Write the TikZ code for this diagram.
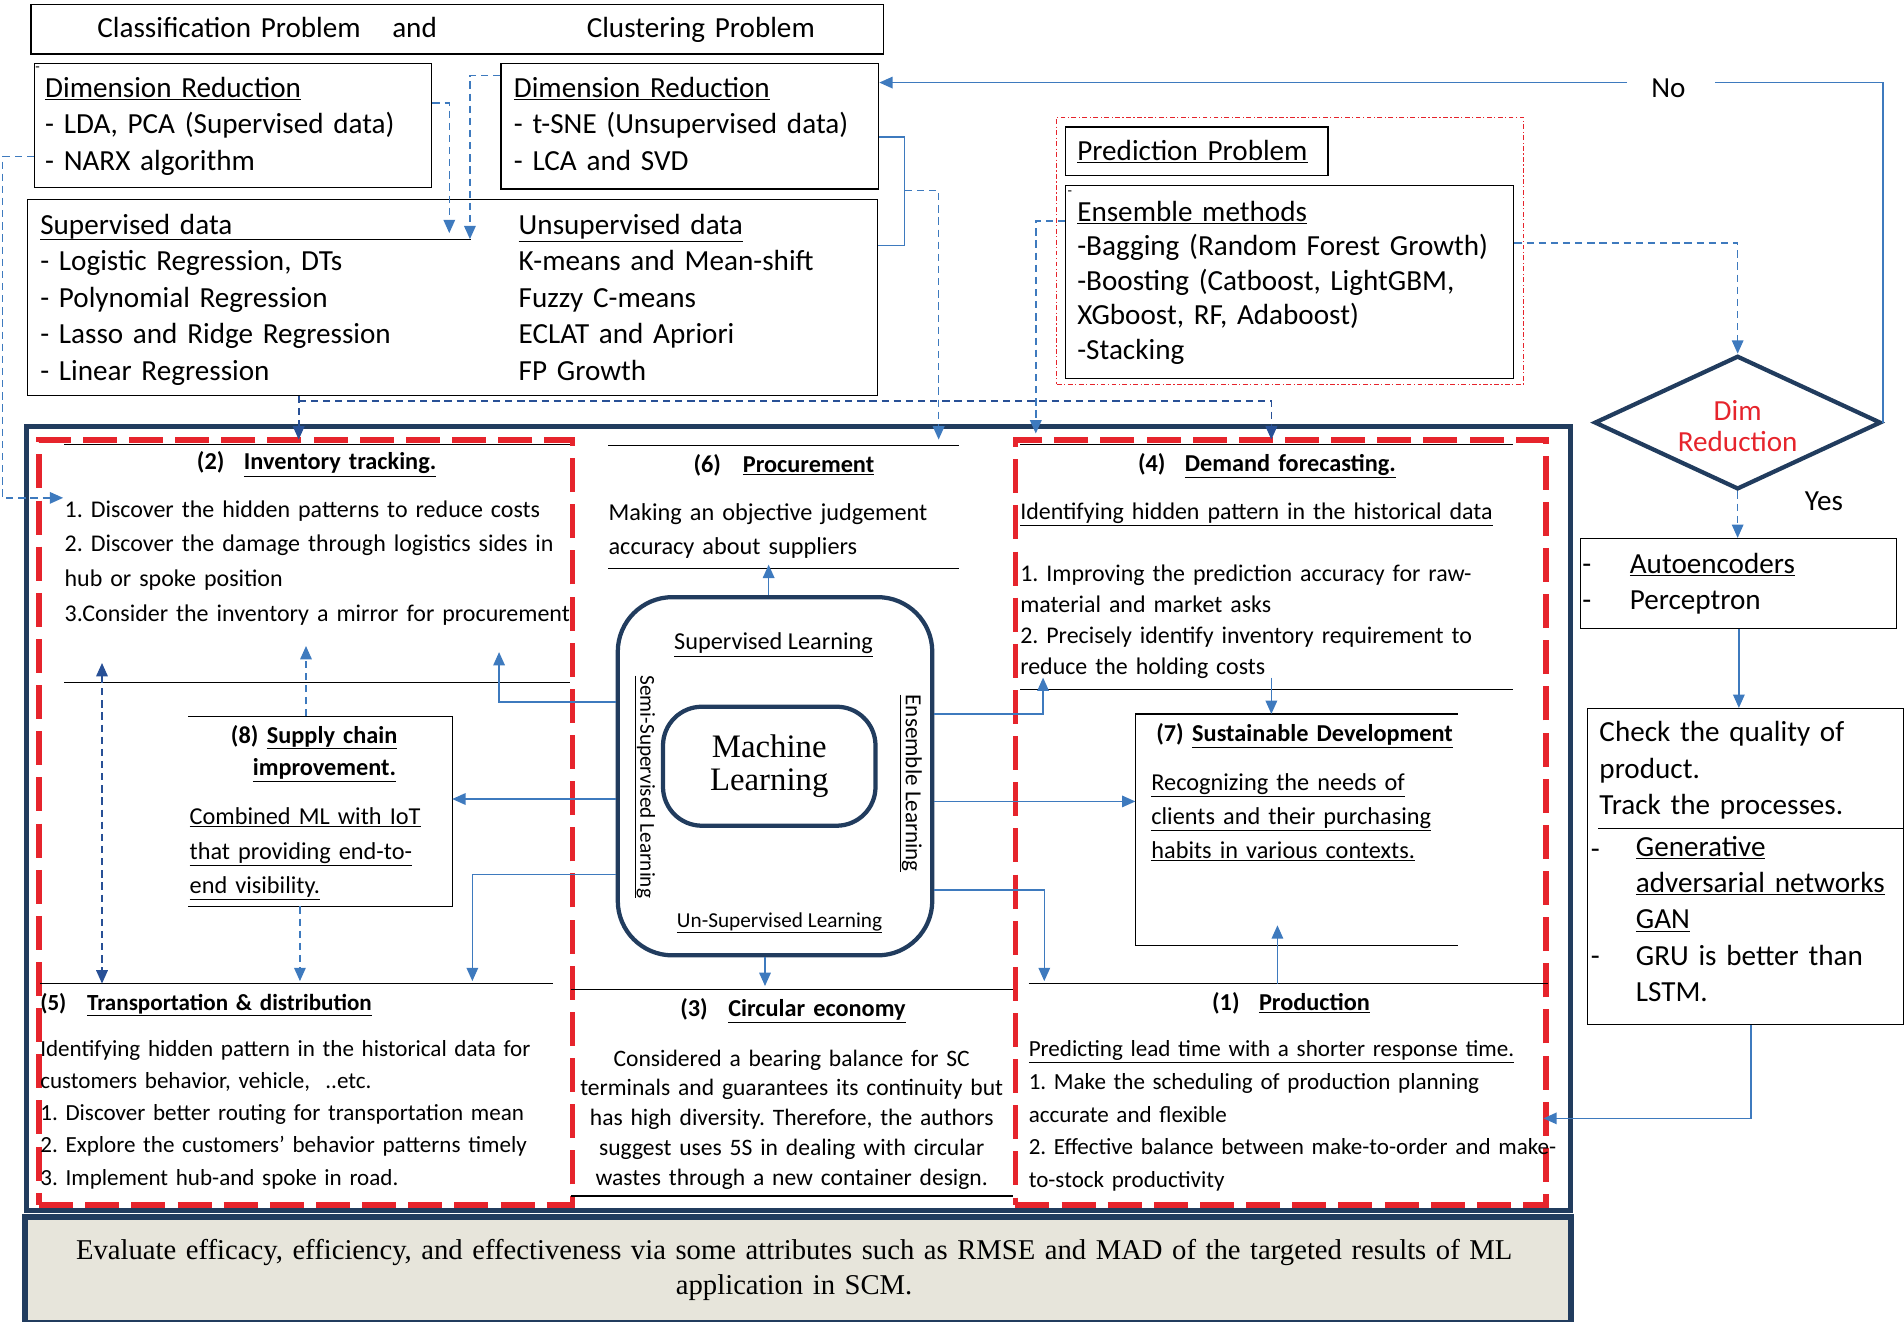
\documentclass[tikz,border=0pt]{standalone}
\usepackage{fontspec}
\setmainfont{Carlito}
\newfontfamily\mlserif{Liberation Serif}
\usepackage{tikz}
\usetikzlibrary{shapes.geometric,arrows.meta,positioning}
\definecolor{navy}{RGB}{33,60,94}
\definecolor{lblue}{RGB}{62,122,190}
\definecolor{dblue}{RGB}{40,80,150}
\definecolor{bred}{RGB}{230,36,44}
\definecolor{beige}{RGB}{231,229,219}
\frenchspacing
\newcommand{\fsz}[2]{\fontsize{#1}{#2}\selectfont}
\newcommand{\ftop}{\fsz{24}{30}}
\newcommand{\fhead}{\fsz{20}{26}}
\newcommand{\fbody}{\fsz{19.75}{28.5}}
\newcommand{\fsmall}{\fsz{19}{26.5}}
\tikzstyle{box} = [draw, line width=1.1pt, inner sep=0pt, anchor=north west]
\tikzstyle{area} = [inner sep=0pt, anchor=north west]
\tikzstyle{navybox} = [draw=navy, line width=4pt, inner sep=0pt, anchor=north west]
\tikzstyle{redbox} = [draw=bred, line width=4.5pt, dash pattern=on 28pt off 10pt, inner sep=0pt, anchor=north west]
\tikzstyle{txt} = [inner sep=0pt, anchor=base west, align=left, text width=600pt]
\tikzstyle{ctxt} = [inner sep=0pt, anchor=base, align=center, text width=420pt]
\tikzstyle{rule} = [draw, line width=1pt]
\tikzstyle{line} = [draw=lblue, line width=1.3pt]
\tikzstyle{arr} = [line, -{Triangle[length=11pt,width=9.5pt]}]
\tikzstyle{darr} = [arr, dash pattern=on 6pt off 4pt]

\begin{document}
\begin{tikzpicture}[x=1pt, y=-1pt]
\useasboundingbox (0,0) rectangle (1568,1088);

% ---- problems and methods on top
\node [box, minimum width=702, minimum height=41] (cls) at (25,3) {};
\node [txt, font=\ftop] (clsa) at (80,31) {Classification Problem\hspace{26pt}and};
\node [txt, font=\ftop] (clsb) at (483,31) {Clustering Problem};

\node [box, minimum width=327, minimum height=102] (dimL) at (28,52) {};
\node [txt, font=\fsz{12}{12}] (dimLm) at (29,59) {-};
\node [txt, font=\ftop] (dimLt) at (37,80) {\underline{Dimension Reduction}\\- LDA, PCA (Supervised data)\\- NARX algorithm};
\node [box, minimum width=311, minimum height=103] (dimR) at (412,52) {};
\node [txt, font=\ftop] (dimRt) at (423,80) {\underline{Dimension Reduction}\\- t-SNE (Unsupervised data)\\- LCA and SVD};

\node [box, minimum width=700, minimum height=161] (sup) at (22,164) {};
\node [txt, font=\ftop] (supt) at (33,193) {Supervised data\\- Logistic Regression, DTs\\- Polynomial Regression\\- Lasso and Ridge Regression\\- Linear Regression};
\path [rule] (33,197) -- (388,197);
\node [txt, font=\ftop] (unst) at (427,193) {\underline{Unsupervised data}\\K-means and Mean-shift\\Fuzzy C-means\\ECLAT and Apriori\\FP Growth};

\node [area, draw=bred, line width=0.7pt, dash pattern=on 4pt off 2pt on 1pt off 2pt, minimum width=384, minimum height=220] (pred) at (870,96) {};
\node [box, minimum width=216, minimum height=40] (predp) at (877,104) {};
\node [txt, font=\ftop] (predt) at (887,132) {\underline{Prediction Problem}};
\node [box, minimum width=369, minimum height=159] (ens) at (877,152) {};
\node [txt, font=\fsz{12}{12}] (ensm) at (879,161) {-};
\node [txt, font=\fsz{24}{28.5}] (enst) at (887,182) {\underline{Ensemble methods}\\-Bagging (Random Forest Growth)\\-Boosting (Catboost, LightGBM,\\XGboost, RF, Adaboost)\\-Stacking};

% ---- right column
\node [diamond, draw=navy, line width=3.5pt, inner sep=0pt, aspect=2.15, minimum width=236, minimum height=110, align=center, text=bred, font=\fsz{24}{26}] (dia) at (1431,348) {};
\node [inner sep=0pt, align=center, text=bred, font=\fsz{24}{26}] (diat) at (1431,351) {Dim\\Reduction};
\node [inner sep=18pt, font=\ftop] (no) at (1374,73) {No};
\node [inner sep=0pt, font=\ftop] (yes) at (1502,413) {Yes};

\node [box, minimum width=260, minimum height=74] (auto) at (1301,443) {};
\node [txt, font=\ftop] (autom) at (1303,472) {-\\-};
\node [txt, font=\ftop] (autot) at (1342,472) {\underline{Autoencoders}\\Perceptron};

\node [box, minimum width=260, minimum height=260] (chk) at (1307,583) {};
\node [txt, font=\ftop] (chkt) at (1317,611) {Check the quality of\\product.\\Track the processes.};
\path [rule] (1316,682) -- (chk.east |- 0,682);
\node [txt, font=\ftop] (chkm) at (1310,707) {-\\[58pt]-};
\node [txt, font=\ftop] (chkg) at (1347,705) {\underline{Generative}\\\underline{adversarial networks}\\\underline{GAN}\\GRU is better than\\LSTM.};

% ---- main frame
\node [navybox, minimum width=1271, minimum height=646] (main) at (20,349) {};
\node [redbox, minimum width=439, minimum height=630] (redL) at (30,360) {};
\node [redbox, minimum width=437, minimum height=630] (redR) at (834,360) {};

% (2) inventory tracking
\path [rule] (53,366) -- (469,366);
\path [rule] (53,562) -- (469,562);
\node [txt, font=\fhead] (invh) at (162,387) {\textbf{(2)}\hspace{16pt}\textbf{\underline{Inventory tracking.}}};
\node [txt, font=\fbody] (invt) at (53,426) {1. Discover the hidden patterns to reduce costs\\2. Discover the damage through logistics sides in\\hub or spoke position\\3.Consider the inventory a mirror for procurement};

% (8) supply chain improvement
\node [area, minimum width=217, minimum height=156] (sc) at (155,590) {};
\path [rule] (sc.north west) -- (sc.north east) -- (sc.south east) -- (sc.south west);
\node [txt, font=\fhead] (sch) at (190,612) {\textbf{(8)}\hspace{7pt}\textbf{\underline{Supply chain}}};
\node [txt, font=\fhead] (sch2) at (208,639) {\textbf{\underline{improvement.}}};
\node [txt, font=\fsz{20}{28.5}] (sct) at (156,679) {\underline{Combined ML with IoT}\\\underline{that providing end-to-}\\\underline{end visibility.}};

% (5) transportation
\path [rule] (33,810) -- (455,810);
\node [txt, font=\fsz{19}{24}] (trh) at (33,832) {\textbf{(5)}\hspace{17pt}\textbf{\underline{Transportation \& distribution}}};
\node [txt, font=\fsmall] (trt) at (33,870) {Identifying hidden pattern in the historical data for\\customers behavior, vehicle,\ \ ..etc.\\1. Discover better routing for transportation mean\\2. Explore the customers' behavior patterns timely\\3. Implement hub-and spoke in road.};

% (6) procurement
\path [rule] (501,367) -- (790,367);
\path [rule] (501,468) -- (790,468);
\node [txt, font=\fhead] (proch) at (571,389) {\textbf{(6)}\hspace{18pt}\textbf{\underline{Procurement}}};
\node [txt, font=\fsz{20}{28}] (proct) at (501,429) {Making an objective judgement\\accuracy about suppliers};

% machine learning
\node [area, draw=navy, line width=3.5pt, rounded corners=45pt, minimum width=259, minimum height=295] (mlout) at (507,490) {};
\node [draw=navy, line width=3.5pt, rounded corners=32pt, minimum width=175, minimum height=98, inner sep=0pt, align=center, font={\mlserif\fsz{27}{27}}] (ml) at (633.5,631) {Machine\\Learning};
\node [inner sep=0pt, font=\fsz{20}{24}] (sl) at (637,531) {\underline{Supervised Learning}};
\node [inner sep=0pt, font=\fsz{17.5}{20}] (ul) at (642,760) {\underline{Un-Supervised Learning}};
\node [inner sep=0pt, rotate=-90, font=\fsz{17.5}{20}] (ssl) at (531,648) {\underline{Semi-Supervised Learning}};
\node [inner sep=0pt, rotate=-90, font=\fsz{19}{22}] (el) at (750,645) {\underline{Ensemble Learning}};

% (3) circular economy
\path [rule] (470,815) -- (834,815);
\path [rule] (470,985) -- (834,985);
\node [txt, font=\fhead] (cirh) at (560,837) {\textbf{(3)}\hspace{17pt}\textbf{\underline{Circular economy}}};
\node [ctxt, font=\fsz{19.4}{24.5}] (cirt) at (652,878) {Considered a bearing balance for SC\\terminals and guarantees its continuity but\\has high diversity. Therefore, the authors\\suggest uses 5S in dealing with circular\\wastes through a new container design.};

% (4) demand forecasting
\path [rule] (840,366) -- (1246,366);
\path [rule] (840,568) -- (1246,568);
\node [txt, font=\fhead] (demh) at (937,388) {\textbf{(4)}\hspace{16pt}\textbf{\underline{Demand forecasting.}}};
\node [txt, font=\fsz{19.7}{28}] (demu) at (840,428) {\underline{Identifying hidden pattern in the historical data}};
\node [txt, font=\fsz{19.7}{25.5}] (demt) at (840,479) {1. Improving the prediction accuracy for raw-\\material and market asks\\2. Precisely identify inventory requirement to\\reduce the holding costs};

% (7) sustainable development
\node [area, minimum width=265, minimum height=190] (sd) at (935,588) {};
\path [rule] (sd.north east) -- (sd.north west) -- (sd.south west) -- (sd.south east);
\node [txt, font=\fhead] (sdh) at (952,611) {\textbf{(7)}\hspace{7pt}\textbf{\underline{Sustainable Development}}};
\node [txt, font=\fsz{20}{28}] (sdt) at (948,651) {\underline{Recognizing the needs of}\\\underline{clients and their purchasing}\\\underline{habits in various contexts.}};

% (1) production
\path [rule] (847,810) -- (1275,810);
\node [txt, font=\fhead] (prh) at (998,832) {\textbf{(1)}\hspace{16pt}\textbf{\underline{Production}}};
\node [txt, font=\fsz{19}{27}] (prt) at (847,870) {\underline{Predicting lead time with a shorter response time.}\\1. Make the scheduling of production planning\\accurate and flexible\\2. Effective balance between make-to-order and make-\\to-stock productivity};

% evaluation
\node [area, draw=navy, line width=5pt, fill=beige, minimum width=1273, minimum height=87] (eval) at (18,1000) {};
\node [ctxt, text width=1260pt, font={\mlserif\fsz{23.6}{29}}] (evalt) at (654,1037) {Evaluate efficacy, efficiency, and effectiveness via some attributes such as RMSE and MAD of the targeted results of ML\\application in SCM.};

% ---- coordinates for free ends
\coordinate (dimLtip) at (370,192);
\coordinate (dimRtip) at (387,197);
\coordinate (lft) at (2,410);
\coordinate (invtip) at (52,410);
\coordinate (brk) at (745,157);
\coordinate (proctip) at (773,362);
\coordinate (demtip) at (853,357);
\coordinate (invtop) at (246,362);
\coordinate (demtop) at (1047,362);
\coordinate (noR) at (1412,68);
\coordinate (noL) at (1340,68);
\coordinate (prodtip) at (1271,921);

% ---- connectors on top
\path [darr] (dimL.east |- 0,85) -| (dimLtip);
\path [darr] (dimR.west |- 0,62) -| (dimRtip);
\path [darr] (dimL.west |- 0,129) -| (lft) -- (invtip);
\path [line] (dimR.east |- 0,113) -| (brk) |- (sup.east |- 0,202);
\path [darr] (brk) -| (proctip);
\path [darr] (ens.west |- 0,182) -| (demtip);
\path [darr, draw=dblue] (sup.south -| invtop) -- (invtop);
\path [darr, draw=dblue] (invtop |- 0,330) -| (demtop);
\path [darr] (ens.east |- 0,200) -| (dia.north);
\path [line] (dia.east) |- (noR);
\path [arr] (noL) -- (dimR.east |- noL);
\path [darr] (dia.south) -- (auto.north -| dia.south);
\path [arr] (auto.south -| 1432,0) -- (chk.north -| 1432,0);
\path [arr] (chk.south -| 1442,0) |- (prodtip);

% ---- connectors inside the frame
\path [arr] (mlout.north -| 633,0) -- (633,465);
\path [arr] (mlout.south -| 630,0) -- (630,812);
\path [arr] (mlout.west |- 0,578) -| (411,537);
\path [arr] (mlout.west |- 0,658) -- (sc.east |- 0,658);
\path [arr] (mlout.west |- 0,720) -| (389,808);
\path [darr] (sc.north -| 252,0) -- (252,532);
\path [darr] (sc.south -| 247,0) -- (247,808);
\path [darr, draw=dblue, {Triangle[length=11pt,width=9.5pt]}-{Triangle[length=11pt,width=9.5pt]}] (84,546) -- (84,810);
\path [arr] (mlout.east |- 0,588) -| (859,558);
\path [arr] (mlout.east |- 0,660) -- (sd.west |- 0,660);
\path [arr] (mlout.east |- 0,733) -| (860,808);
\path [arr] (1047,558) -- (sd.north -| 1047,0);
\path [arr] (1052,810) -- (1052,762);
\end{tikzpicture}
\end{document}
